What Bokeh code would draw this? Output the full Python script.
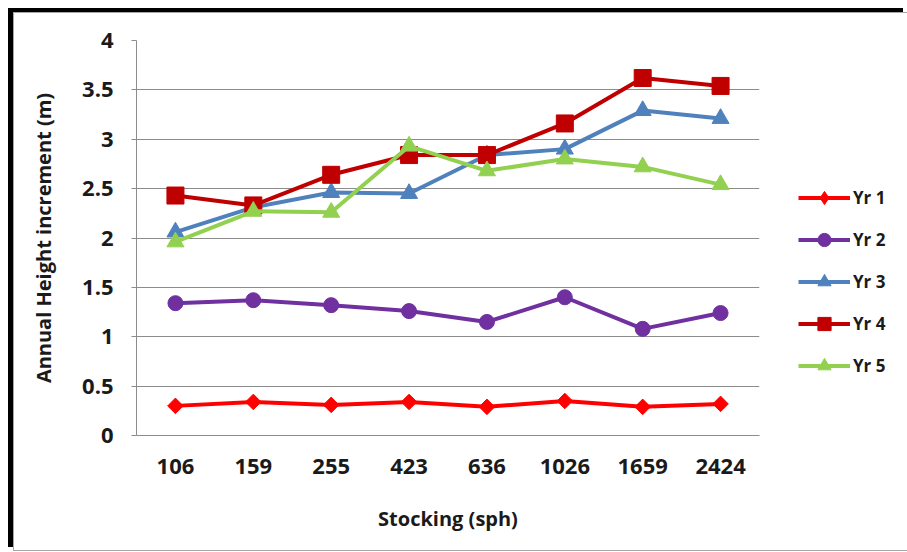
from bokeh.plotting import figure
from bokeh.layouts import row
from bokeh.models import (ColumnDataSource, FactorRange, Range1d, FixedTicker,
                          CustomJSTickFormatter, Legend, LegendItem)
from bokeh.embed import file_html
from bokeh.resources import INLINE
import math

# Stocking density classes (stems per hectare)
stocking = ["106", "159", "255", "423", "636", "1026", "1659", "2424"]

# Annual height increment (m) for each year after planting
yr1 = [0.30, 0.34, 0.31, 0.34, 0.29, 0.35, 0.29, 0.32]
yr2 = [1.34, 1.37, 1.32, 1.26, 1.15, 1.40, 1.08, 1.24]
yr3 = [2.06, 2.31, 2.46, 2.45, 2.84, 2.90, 3.29, 3.21]
yr4 = [2.43, 2.33, 2.64, 2.84, 2.84, 3.16, 3.62, 3.54]
yr5 = [1.96, 2.27, 2.26, 2.93, 2.68, 2.80, 2.72, 2.54]

y_ticks = [0, 0.5, 1, 1.5, 2, 2.5, 3, 3.5, 4]

src = ColumnDataSource(dict(x=stocking, yr1=yr1, yr2=yr2, yr3=yr3, yr4=yr4, yr5=yr5))

FONT = "Open Sans"

# main chart
p = figure(
    x_range=FactorRange(*stocking, range_padding=0),
    y_range=Range1d(0, 4),
    width=777, height=537,
    output_backend="svg", toolbar_location=None,
    min_border_left=122, min_border_right=32,
    min_border_top=27, min_border_bottom=115,
    background_fill_color="white", border_fill_color="white",
)
p.outline_line_color = None

p.xgrid.grid_line_color = None
p.ygrid.grid_line_color = "#8c8c8c"
p.ygrid.grid_line_width = 1

p.yaxis.ticker = FixedTicker(ticks=y_ticks)
p.yaxis.formatter = CustomJSTickFormatter(code="return String(tick)")
for ax in (p.xaxis[0], p.yaxis[0]):
    ax.axis_line_color = "#8c8c8c"
    ax.major_label_text_font = FONT
    ax.major_label_text_font_style = "bold"
    ax.major_label_text_font_size = "22px"
    ax.major_label_text_color = "#1a1a1a"
    ax.axis_label_text_font = FONT
    ax.axis_label_text_font_style = "bold"
    ax.axis_label_text_font_size = "20px"
    ax.axis_label_text_color = "#1a1a1a"
    ax.minor_tick_line_color = None

p.yaxis.major_tick_in = 0
p.yaxis.major_tick_out = 5
p.yaxis.major_tick_line_color = "#8c8c8c"
p.yaxis.major_label_standoff = 18
p.yaxis.axis_label = "Annual Height increment (m)"
p.yaxis.axis_label_standoff = 22

p.xaxis.major_tick_line_color = None
p.xaxis.major_label_standoff = 17
p.xaxis.axis_label = "Stocking (sph)"
p.xaxis.axis_label_standoff = 28

# label, column, colour, chart marker, size, angle, legend marker
series = [
    ("Yr 1", "yr1", "#ff0000", "square", 11, math.pi / 4, "diamond"),
    ("Yr 2", "yr2", "#7030a0", "circle", 15, 0, "circle"),
    ("Yr 3", "yr3", "#4f81bd", "triangle", 17, 0, "triangle"),
    ("Yr 4", "yr4", "#c00000", "square", 17, 0, "square"),
    ("Yr 5", "yr5", "#92d050", "triangle", 17, 0, "triangle"),
]

# legend panel to the right of the chart (its frame lines up with the chart's)
lg = figure(
    x_range=FactorRange(*stocking), y_range=Range1d(0, 4),
    width=117, height=537,
    output_backend="svg", toolbar_location=None,
    min_border=0, min_border_left=0, min_border_right=0,
    min_border_top=0, min_border_bottom=0,
    x_axis_type=None, y_axis_type=None,
    background_fill_color="white", border_fill_color="white",
)
lg.outline_line_color = None
lg.xgrid.visible = False
lg.ygrid.visible = False

items = []
for label, col, color, marker, size, angle, lmarker in series:
    p.line("x", col, source=src, line_color=color, line_width=4)
    p.scatter("x", col, source=src, marker=marker, size=size, angle=angle,
              fill_color=color, line_color=color, line_width=1)
    # hidden copies in the legend panel supply the legend swatches
    ln = lg.line("x", col, source=src, line_color=color, line_width=4, visible=False)
    mk = lg.scatter("x", col, source=src, marker=lmarker, size=size,
                    fill_color=color, line_color=color, line_width=1, visible=False)
    items.append(LegendItem(label=label, renderers=[ln, mk]))

legend = Legend(items=items, location=(7, 53))
legend.padding = 0
legend.margin = 0
legend.spacing = 9
legend.glyph_width = 52
legend.glyph_height = 33
legend.label_height = 20
legend.label_standoff = 3
legend.border_line_color = None
legend.background_fill_alpha = 0
legend.label_text_font = FONT
legend.label_text_font_style = "bold"
legend.label_text_font_size = "17px"
legend.label_text_color = "#1a1a1a"
lg.add_layout(legend, "center")

layout = row(p, lg)
layout.margin = (12, 0, 0, 13)
layout.styles = {
    "border-top": "1px solid #a6a6a6",
    "border-left": "1px solid #a6a6a6",
    "border-bottom": "1px solid #a6a6a6",
    "box-shadow": "-5px -4px 0 0 #000000",
    "background": "white",
}

open("out.html", "w").write(file_html(layout, INLINE))
